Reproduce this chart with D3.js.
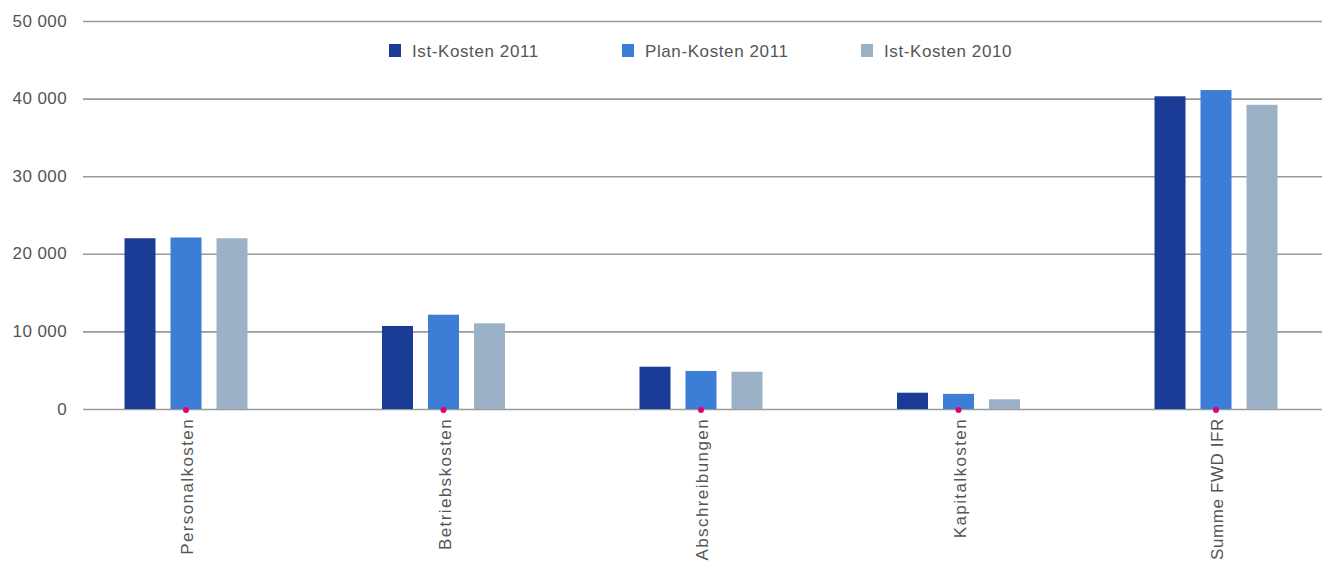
<!DOCTYPE html>
<html><head><meta charset="utf-8">
<script src="https://cdn.jsdelivr.net/npm/d3@7"></script>
<style>body{margin:0;background:#fff;}svg{display:block;font-family:"Liberation Sans",Arial,sans-serif;}</style>
</head><body><svg id="c" width="1322" height="566"></svg>
<script>
const categories = ["Personalkosten","Betriebskosten","Abschreibungen","Kapitalkosten","Summe FWD IFR"];
const seriesNames = ["Ist-Kosten 2011","Plan-Kosten 2011","Ist-Kosten 2010"];
const istKosten2011 = [22000, 10700, 5450, 2100, 40300];
const planKosten2011 = [22100, 12150, 4900, 1950, 41100];
const istKosten2010 = [22000, 11050, 4800, 1250, 39200];
const yTicks = [0, 10000, 20000, 30000, 40000, 50000];
const colors = ["#1b3c96","#3c7ed6","#9bb1c5"];

const series = [istKosten2011, planKosten2011, istKosten2010];
const svg = d3.select("#c");
const y = d3.scaleLinear().domain([0, 50000]).range([409, 21]);
const x = d3.scalePoint().domain(categories).range([186, 1216]);

// gridlines
const fmt = v => v === 0 ? "0" : d3.format(",")(v).replace(",", " ");
const yAxis = d3.axisLeft(y).tickValues(yTicks).tickSize(-(1322-83)).tickFormat(fmt).tickPadding(16);
const ga = svg.append("g").attr("transform","translate(83,0)").call(yAxis);
ga.select(".domain").remove();
ga.selectAll(".tick line").attr("stroke","#9a9a9a").attr("stroke-width",1.6);
ga.selectAll(".tick text").attr("fill","#555").style("font-size","17px")
  .style("letter-spacing","0.4px").attr("dy","0.3em");

// bars
categories.forEach((c, i) => {
  series.forEach((s, j) => {
    const w = 31;
    const cx = x(c) + (j - 1) * 46;
    svg.append("rect")
      .attr("x", cx - w/2).attr("width", w)
      .attr("y", y(s[i])).attr("height", y(0) - y(s[i]))
      .attr("fill", colors[j]);
  });
  svg.append("circle").attr("cx", x(c)).attr("cy", y(0)+1).attr("r", 3).attr("fill","#e2007a");
  svg.append("text")
    .attr("transform", `translate(${x(c)+7},${y(0)+9}) rotate(-90)`)
    .attr("text-anchor","end").attr("fill","#555").style("font-size","17px")
    .style("letter-spacing", i === categories.length - 1 ? "0.6px" : "1.4px")
    .text(c);
});

// legend
const legX = [389, 622, 861];
seriesNames.forEach((n, j) => {
  svg.append("rect").attr("x", legX[j]).attr("y", 44).attr("width", 12).attr("height", 13).attr("fill", colors[j]);
  svg.append("text").attr("x", legX[j] + 23).attr("y", 57).attr("fill","#555")
    .style("font-size","17px").style("letter-spacing","0.6px").text(n);
});
</script></body></html>
